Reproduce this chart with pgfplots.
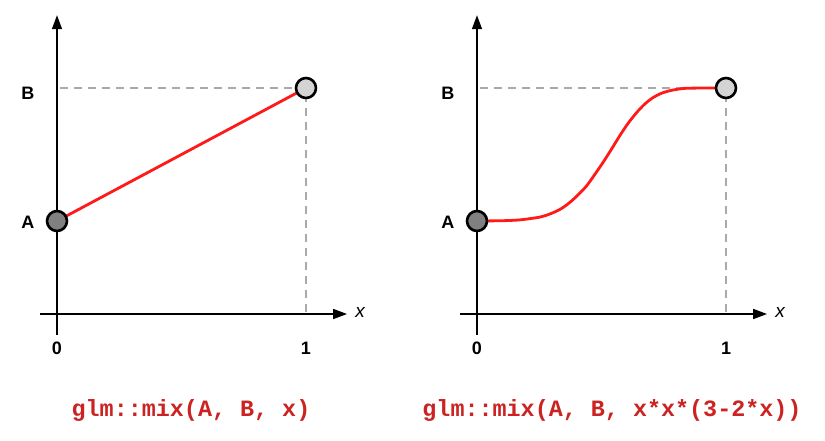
\documentclass[border=0pt]{standalone}
\usepackage{pgfplots}
\pgfplotsset{compat=1.18}
\usetikzlibrary{arrows.meta}
\usepackage{fontspec}
\setmainfont{Liberation Sans}
\newfontfamily\monofont{Liberation Mono}
\definecolor{capred}{RGB}{204,34,34}
\definecolor{dashgray}{RGB}{170,170,170}
\definecolor{ptdark}{RGB}{128,128,128}
\definecolor{ptlight}{RGB}{212,212,212}
\definecolor{linered}{RGB}{255,25,25}
\pgfplotstableread{
x y
0 0.3735
0.1 0.3746
0.17 0.3778
0.24 0.3869
0.27 0.3938
0.305 0.4066
0.34 0.4242
0.373 0.4483
0.405 0.4776
0.44 0.5145
0.473 0.5604
0.506 0.6085
0.54 0.6619
0.574 0.7169
0.607 0.7661
0.641 0.8088
0.674 0.8435
0.707 0.8691
0.74 0.8862
0.775 0.8969
0.81 0.9033
0.842 0.9065
0.92 0.9076
1 0.9076
}\smoothdata
\tikzset{lab/.style={font=\fontsize{18}{20}\selectfont\bfseries}}
\pgfplotsset{
  panel/.style={
    anchor=origin,
    x=249pt, y=249pt,
    xmin=-0.068, xmax=1.165, ymin=-0.084, ymax=1.20,
    axis lines=middle,
    axis line style={line width=1.6pt, -{Triangle[length=14pt,width=10pt]}},
    xtick=\empty, ytick=\empty,
    clip=false,
  },
}
\begin{document}
\begin{tikzpicture}
\path[use as bounding box] (0,0) rectangle (825pt,440pt);
% left panel
\begin{axis}[panel, at={(57pt,126pt)}]
\addplot[dashgray, line width=1.7pt, dash pattern=on 8pt off 6pt] coordinates {(0.012,0.9076) (1,0.9076) (1,0)};
\addplot[linered, line width=2.8pt] coordinates {(0,0.3735) (1,0.9076)};
\addplot[only marks, mark=*, mark size=10pt, mark options={fill=ptdark, draw=black, line width=2.6pt}] coordinates {(0,0.3735)};
\addplot[only marks, mark=*, mark size=10pt, mark options={fill=ptlight, draw=black, line width=2.6pt}] coordinates {(1,0.9076)};
\node[lab] at (axis cs:0,-0.137) {0};
\node[lab] at (axis cs:1,-0.137) {1};
\node[lab] at (axis cs:-0.117,0.369) {A};
\node[lab] at (axis cs:-0.117,0.887) {B};
\node[font=\fontsize{19}{20}\selectfont\itshape] at (axis cs:1.217,0.008) {x};
\end{axis}
% right panel
\begin{axis}[panel, at={(477pt,126pt)}]
\addplot[dashgray, line width=1.7pt, dash pattern=on 8pt off 6pt] coordinates {(0.012,0.9076) (1,0.9076) (1,0)};
\addplot[linered, line width=2.8pt, smooth] table {\smoothdata};
\addplot[only marks, mark=*, mark size=10pt, mark options={fill=ptdark, draw=black, line width=2.6pt}] coordinates {(0,0.3735)};
\addplot[only marks, mark=*, mark size=10pt, mark options={fill=ptlight, draw=black, line width=2.6pt}] coordinates {(1,0.9076)};
\node[lab] at (axis cs:0,-0.137) {0};
\node[lab] at (axis cs:1,-0.137) {1};
\node[lab] at (axis cs:-0.117,0.369) {A};
\node[lab] at (axis cs:-0.117,0.887) {B};
\node[font=\fontsize{19}{20}\selectfont\itshape] at (axis cs:1.217,0.008) {x};
\end{axis}
\node[font=\monofont\bfseries\fontsize{23.4}{26}\selectfont, text=capred] at (191pt,30pt) {glm::mix(A, B, x)};
\node[font=\monofont\bfseries\fontsize{23.4}{26}\selectfont, text=capred] at (612pt,30pt) {glm::mix(A, B, x*x*(3-2*x))};
\end{tikzpicture}
\end{document}
